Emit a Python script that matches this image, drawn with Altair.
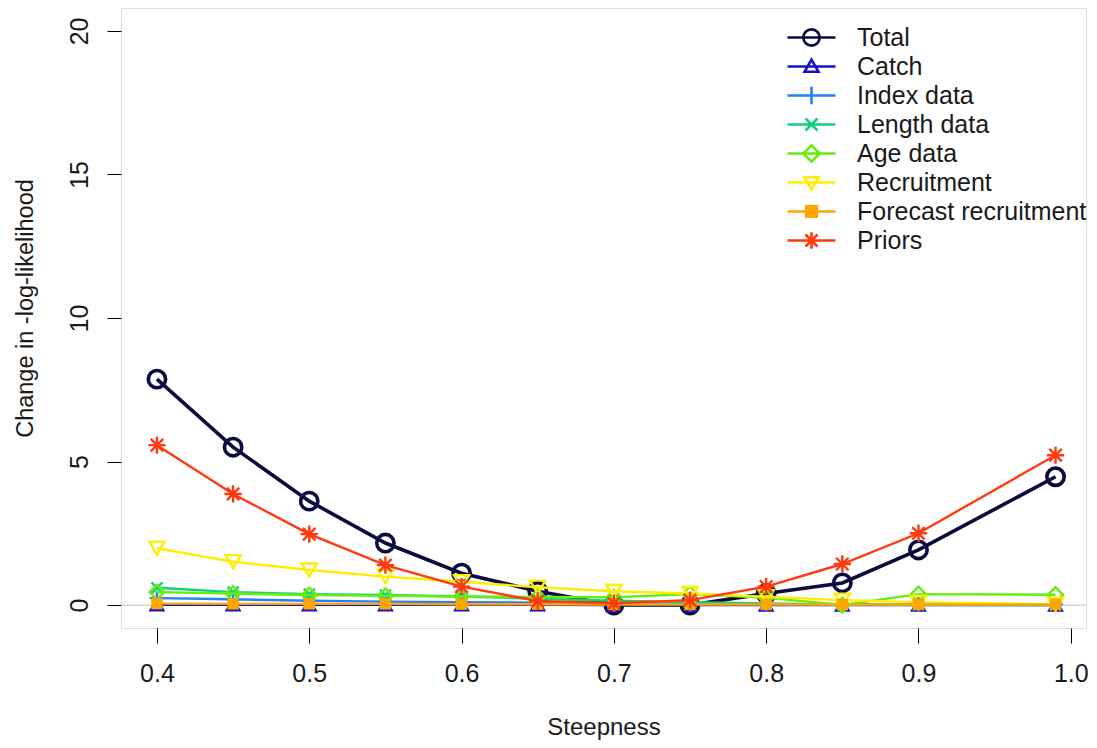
import altair as alt
import pandas as pd

steepness = [0.4, 0.45, 0.5, 0.55, 0.6, 0.65, 0.7, 0.75, 0.8, 0.85, 0.9, 0.99]

components = ["Total", "Catch", "Index data", "Length data", "Age data",
              "Recruitment", "Forecast recruitment", "Priors"]

total = [7.87, 5.50, 3.62, 2.16, 1.11, 0.48, 0.00, 0.00, 0.40, 0.77, 1.92, 4.47]
catch = [0.01, 0.01, 0.01, 0.01, 0.01, 0.01, 0.00, 0.00, 0.00, 0.00, 0.00, 0.00]
index_data = [0.24, 0.20, 0.15, 0.12, 0.10, 0.08, 0.06, 0.05, 0.04, 0.03, 0.02, 0.02]
length_data = [0.60, 0.45, 0.38, 0.35, 0.30, 0.22, 0.15, 0.10, 0.05, 0.02, 0.01, 0.00]
age_data = [0.45, 0.40, 0.35, 0.32, 0.30, 0.28, 0.27, 0.38, 0.26, 0.00, 0.38, 0.36]
recruitment = [1.98, 1.51, 1.22, 0.99, 0.81, 0.62, 0.48, 0.40, 0.29, 0.17, 0.10, 0.03]
forecast = [0.05, 0.04, 0.04, 0.04, 0.03, 0.03, 0.02, 0.02, 0.02, 0.02, 0.02, 0.02]
priors = [5.57, 3.87, 2.47, 1.39, 0.64, 0.14, 0.06, 0.17, 0.64, 1.43, 2.50, 5.22]

series_values = [total, catch, index_data, length_data, age_data, recruitment, forecast, priors]

colors = ["#0b0b40", "#1414c8", "#2080ff", "#12d080", "#66ee11", "#ffee00", "#ffa500", "#ff3a10"]

# plot marker shapes
plus_path = "M-1,0L1,0M0,-1L0,1"
x_path = "M-1,-1L1,1M-1,1L1,-1"
ast_path = "M-1,0L1,0M0,-1L0,1M-0.72,-0.72L0.72,0.72M-0.72,0.72L0.72,-0.72"
marker_shapes = ["circle", "triangle-up", plus_path, x_path, "diamond", "triangle-down", "square", ast_path]
marker_sizes = [300, 160, 210, 120, 220, 230, 130, 300]
marker_filled = [False, False, False, False, False, False, True, False]
line_widths = [3.6, 2.4, 2.4, 2.4, 2.4, 2.4, 2.4, 2.4]

# legend symbols: line segment plus marker (unit = half of symbol width)
seg = "M-1,0L1,0"
legend_paths = [
    seg + "M0.34,0A0.34,0.34 0 1,1 -0.34,0A0.34,0.34 0 1,1 0.34,0",
    seg + "M0,-0.29L-0.29,0.22L0.29,0.22Z",
    seg + "M-0.34,0L0.34,0M0,-0.36L0,0.36",
    seg + "M-0.25,-0.25L0.25,0.25M-0.25,0.25L0.25,-0.25",
    seg + "M0,-0.34L0.34,0L0,0.34L-0.34,0Z",
    seg + "M0,0.29L-0.3,-0.22L0.3,-0.22Z",
    seg + "M-0.22,-0.22L0.22,-0.22L0.22,0.22L-0.22,0.22ZM-0.14,-0.14L0.14,-0.14L0.14,0.14L-0.14,0.14ZM-0.06,-0.06L0.06,-0.06L0.06,0.06L-0.06,0.06Z",
    seg + "M-0.34,0L0.34,0M0,-0.34L0,0.34M-0.25,-0.25L0.25,0.25M-0.25,0.25L0.25,-0.25",
]

x_ticks = [0.4, 0.5, 0.6, 0.7, 0.8, 0.9, 1.0]
y_ticks = [0, 5, 10, 15, 20]

FONT = "Liberation Sans"
FS = 25
TXT = "#1a1a1a"

xscale = alt.Scale(domain=[0.3764, 1.0100], nice=False, zero=False)
yscale = alt.Scale(domain=[-0.8, 20.8], nice=False, zero=False)

x_axis = alt.Axis(values=x_ticks, format=".1f", title="Steepness", grid=False, domain=False,
                  tickSize=15, tickColor="black", tickWidth=1, labelFontSize=FS, labelFont=FONT,
                  labelColor=TXT, labelPadding=18, labelBaseline="top",
                  titleFontSize=24, titleFont=FONT,
                  titleFontWeight="normal", titleColor=TXT, titleY=106,
                  titleBaseline="alphabetic")
y_axis = alt.Axis(values=y_ticks, format="d", title="Change in -log-likelihood", grid=False,
                  domain=False, tickSize=14, tickColor="black", tickWidth=1, labelFontSize=FS,
                  labelFont=FONT, labelColor=TXT, labelAngle=270, labelAlign="center",
                  labelBaseline="alphabetic", labelPadding=20, titleFontSize=23.5,
                  titleFont=FONT, titleFontWeight="normal", titleColor=TXT, titleX=-89,
                  titleY=300, titleBaseline="alphabetic", titleAngle=270, titleAlign="center")

rows = []
for name, vals in zip(components, series_values):
    for s, v in zip(steepness, vals):
        rows.append({"steepness": s, "component": name, "value": v})
df = pd.DataFrame(rows)

base = alt.Chart(df)

zero_line = alt.Chart(pd.DataFrame({"z": [0]})).mark_rule(color="#c8c8c8", strokeWidth=1.2).encode(
    y=alt.Y("z:Q", scale=yscale, axis=y_axis)
)

layers = [zero_line]
for i, name in enumerate(components):
    sub = base.transform_filter(alt.datum.component == name)
    line = sub.mark_line(color=colors[i], strokeWidth=line_widths[i], clip=True).encode(
        x=alt.X("steepness:Q", scale=xscale, axis=x_axis),
        y=alt.Y("value:Q", scale=yscale, axis=y_axis),
    )
    pts = sub.mark_point(shape=marker_shapes[i], size=marker_sizes[i], filled=marker_filled[i],
                         color=colors[i], strokeWidth=line_widths[i],
                         opacity=1).encode(
        x=alt.X("steepness:Q", scale=xscale),
        y=alt.Y("value:Q", scale=yscale),
    )
    layers += [line, pts]

legend_layer = base.transform_filter(alt.datum.value < -1000).mark_point(
    filled=False, opacity=1, strokeWidth=2
).encode(
    x=alt.X("steepness:Q", scale=xscale),
    y=alt.Y("value:Q", scale=yscale),
    color=alt.Color("component:N", scale=alt.Scale(domain=components, range=colors),
                    legend=alt.Legend(title=None, orient="none", legendX=665, legendY=15,
                                      symbolSize=2304, symbolStrokeWidth=2.6, labelFontSize=FS,
                                      labelFont=FONT, labelColor=TXT, clipHeight=29,
                                      rowPadding=0, labelOffset=20, padding=0, labelLimit=500,
                                      symbolFillColor="transparent")),
    shape=alt.Shape("component:N", scale=alt.Scale(domain=components, range=legend_paths)),
)
layers.append(legend_layer)

chart = alt.layer(*layers).properties(
    width=965, height=620,
    autosize=alt.AutoSizeParams(type="none"),
    padding={"left": 113, "top": 0, "right": 3, "bottom": 112},
).configure_view(stroke="black", strokeWidth=1.2).configure(background="white")

chart.save("out.html", embed_options={"renderer": "svg", "actions": False})
